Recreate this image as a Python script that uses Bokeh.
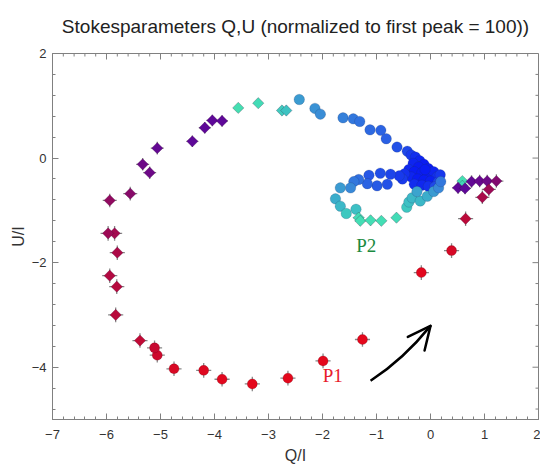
import numpy as np
from bokeh.plotting import figure
from bokeh.models import Range1d, ColumnDataSource, LinearColorMapper, FixedTicker, Label
from bokeh.embed import file_html
from bokeh.resources import INLINE

# ---------------- data ----------------
title_text = "Stokesparameters Q,U (normalized to first peak = 100))"

# diamond series (with error crosses): Q, U, phase (colour level), error half-size
dia_q = [-1.99, -2.64, -3.30, -3.86, -4.20, -4.75, -5.06, -5.11, -5.38, -5.83,
         -5.81, -5.94, -5.80, -5.85, -5.97, -5.94, -5.56, -5.20, -5.33, -5.06,
         -4.41, -4.18, -4.04, -3.86, -3.56, -3.19, -2.75, -2.67,
         -1.33, -1.30, -1.11, -0.91, -0.63,
         0.59, 0.59, 0.51, 0.64, 0.76, 0.91, 1.05, 1.22, 1.08, 0.96, 0.65,
         0.39, -0.17, -1.26]
dia_u = [-3.88, -4.21, -4.32, -4.23, -4.06, -4.03, -3.77, -3.63, -3.49, -3.00,
         -2.46, -2.25, -1.81, -1.44, -1.44, -0.81, -0.68, -0.28, -0.12, 0.19,
         0.32, 0.58, 0.72, 0.71, 0.96, 1.05, 0.91, 0.91,
         -1.14, -1.20, -1.19, -1.20, -1.14,
         -0.44, -0.53, -0.57, -0.58, -0.45, -0.44, -0.44, -0.44, -0.60, -0.75, -1.16,
         -1.77, -2.19, -3.47]
dia_lev = [0.00, 0.00, 0.00, 0.01, 0.02, 0.04, 0.08, 0.10, 0.12, 0.15,
           0.16, 0.17, 0.19, 0.22, 0.24, 0.28, 0.31, 0.40, 0.40, 0.43,
           0.46, 0.47, 0.47, 0.47, 0.55, 0.57, 0.61, 0.63,
           0.57, 0.56, 0.56, 0.56, 0.57,
           0.55, 0.58, 0.47, 0.46, 0.44, 0.42, 0.40, 0.33, 0.24, 0.20, 0.14,
           0.05, 0.01, 0.00]
dia_err = [0.14, 0.14, 0.14, 0.14, 0.14, 0.14, 0.14, 0.14, 0.14, 0.14,
           0.14, 0.14, 0.14, 0.14, 0.14, 0.13, 0.13, 0.12, 0.12, 0.12,
           0.11, 0.11, 0.11, 0.11, 0.06, 0.06, 0.06, 0.06,
           0.10, 0.10, 0.10, 0.09, 0.09,
           0.06, 0.06, 0.11, 0.11, 0.12, 0.12, 0.12, 0.13, 0.13, 0.13, 0.14,
           0.14, 0.14, 0.14]

# circle series: Q, U, phase
cir_q = [-2.43, -2.14, -2.04, -1.62, -1.43, -1.31, -1.12, -0.92, -0.82, -0.62, -0.43, -0.36,
         -0.28, -0.20, -0.32, -0.12, -0.22, -0.04, -0.40, -0.30, -0.16, -0.05, 0.06, 0.12,
         -0.36, -0.24, -0.12, 0.00, 0.14, -0.30, -0.16, -0.04, 0.08, -0.48, -0.52, -0.10, 0.18,
         -0.58, -0.74, -0.93, -1.14, -0.80, -0.99, -1.17, -1.33, -1.42, -1.48,
         -1.67, -1.76, -1.67, -1.56, -1.38, -0.44, -0.40, -0.34, -0.19, -0.25, -0.06, 0.06,
         0.15, 0.19]
cir_u = [1.12, 0.95, 0.84, 0.77, 0.75, 0.70, 0.54, 0.53, 0.37, 0.21, 0.13, 0.06,
         0.02, -0.05, -0.10, -0.12, -0.17, -0.20, -0.22, -0.26, -0.28, -0.32, -0.26, -0.36,
         -0.36, -0.40, -0.42, -0.44, -0.46, -0.50, -0.52, -0.54, -0.55, -0.30, -0.40, -0.22, -0.32,
         -0.34, -0.31, -0.29, -0.33, -0.50, -0.53, -0.49, -0.41, -0.45, -0.57,
         -0.57, -0.78, -0.92, -1.06, -0.98, -0.94, -0.84, -0.76, -0.82, -0.64, -0.73, -0.64,
         -0.57, -0.45]
cir_lev = [0.72, 0.74, 0.75, 0.78, 0.80, 0.81, 0.83, 0.84, 0.85, 0.88, 0.90, 0.93,
           0.96, 0.98, 0.98, 1.00, 1.00, 1.00, 0.97, 1.00, 1.00, 1.00, 0.98, 0.96,
           0.98, 1.00, 1.00, 0.99, 0.92, 0.96, 0.97, 0.95, 0.90, 0.95, 0.93, 1.00, 0.94,
           0.93, 0.91, 0.89, 0.87, 0.88, 0.86, 0.84, 0.82, 0.80, 0.76,
           0.72, 0.68, 0.66, 0.62, 0.64, 0.62, 0.64, 0.66, 0.66, 0.70, 0.68, 0.72,
           0.76, 0.80]

x_ticks = [-7, -6, -5, -4, -3, -2, -1, 0, 1, 2]
y_ticks = [-4, -2, 0, 2]
X0, X1, Y0, Y1 = -7, 2, -5, 2

# ---------------- colour palette ----------------
anchors = [(0.00, "#e4081c"), (0.15, "#b80a3c"), (0.30, "#8a0a66"), (0.45, "#5e0898"),
           (0.50, "#5e0898"), (0.55, "#44e2b2"), (0.65, "#3cbcc6"), (0.75, "#3a8ed6"),
           (0.85, "#2a60e4"), (1.00, "#0a1cf2")]
pos = np.array([a[0] for a in anchors])
rgb = np.array([[int(c[1:3], 16), int(c[3:5], 16), int(c[5:7], 16)] for _, c in anchors], float)
tt = np.linspace(0, 1, 256)
palette = ["#%02x%02x%02x" % tuple(int(round(np.interp(t, pos, rgb[:, k]))) for k in range(3))
           for t in tt]
cmap = LinearColorMapper(palette=palette, low=0, high=1)

# ---------------- figure ----------------
W, H = 540, 468
ML, MR, MT, MB = 52, 2, 53, 49
p = figure(width=W, height=H, x_range=Range1d(X0, X1), y_range=Range1d(Y0, Y1),
           output_backend="svg", toolbar_location=None,
           min_border_left=ML, min_border_right=MR, min_border_top=MT, min_border_bottom=MB)
p.grid.visible = False
p.outline_line_color = "#808080"
p.background_fill_color = "white"
p.border_fill_color = "white"

p.title.text = title_text
p.title.align = "center"
p.title.vertical_align = "top"
p.title.text_font = "Liberation Sans"
p.title.text_font_size = "19px"
p.title.text_font_style = "normal"
p.title.text_color = "#222222"
p.title.standoff = 29

fw = W - ML - MR
fh = H - MT - MB
px_x = (X1 - X0) / fw
px_y = (Y1 - Y0) / fh

xminor = [round(v, 2) for v in np.arange(X0, X1 + 0.001, 0.2)]
yminor = [round(v, 2) for v in np.arange(-4.8, Y1 + 0.001, 0.4)]
p.xaxis.ticker = FixedTicker(ticks=x_ticks, minor_ticks=xminor)
p.yaxis.ticker = FixedTicker(ticks=y_ticks, minor_ticks=yminor)
p.xaxis.axis_label = "Q/I"
p.yaxis.axis_label = "U/I"
for ax in (p.xaxis[0], p.yaxis[0]):
    ax.axis_line_color = "#808080"
    ax.major_tick_line_color = "#808080"
    ax.minor_tick_line_color = "#808080"
    ax.major_tick_in = 6
    ax.major_tick_out = 0
    ax.minor_tick_in = 3
    ax.minor_tick_out = 0
    ax.major_label_text_font = "Liberation Sans"
    ax.major_label_text_font_size = "13px"
    ax.major_label_text_color = "#333333"
    ax.axis_label_text_font = "Liberation Sans"
    ax.axis_label_text_font_size = "16px"
    ax.axis_label_text_font_style = "normal"
    ax.axis_label_text_color = "#333333"
p.xaxis.major_label_standoff = 10
p.xaxis.axis_label_standoff = 5
p.yaxis.major_label_standoff = 6
p.yaxis.axis_label_standoff = 2

# inner ticks on the top and right edges of the frame
xt_all = np.array(x_ticks + [v for v in xminor if v not in x_ticks], float)
xt_len = np.array([6 if v in x_ticks else 3 for v in xt_all], float) * px_y
p.segment(x0=xt_all, y0=Y1, x1=xt_all, y1=Y1 - xt_len, line_color="#808080", line_width=1)
yt_all = np.array(y_ticks + [v for v in yminor if v not in y_ticks], float)
yt_len = np.array([6 if v in y_ticks else 3 for v in yt_all], float) * px_x
p.segment(x0=X1, y0=yt_all, x1=X1 - yt_len, y1=yt_all, line_color="#808080", line_width=1)

# ---------------- glyphs ----------------
dq = np.array(dia_q); du = np.array(dia_u); dl = np.array(dia_lev); de = np.array(dia_err)
cq = np.array(cir_q); cu = np.array(cir_u); cl = np.array(cir_lev)

# error crosses
p.segment(x0=dq - de, y0=du, x1=dq + de, y1=du, line_color="#888888", line_width=1.3)
p.segment(x0=dq, y0=du - de, x1=dq, y1=du + de, line_color="#888888", line_width=1.3)

# circles (blue / teal series)
src_c = ColumnDataSource(dict(q=cq, u=cu, lev=cl))
p.scatter("q", "u", source=src_c, marker="circle", size=10.5,
          fill_color={"field": "lev", "transform": cmap},
          line_color="#203060", line_alpha=0.25, line_width=0.8)

# red points (round) and the rest as diamonds
red = dl < 0.12
src_r = ColumnDataSource(dict(q=dq[red], u=du[red], lev=dl[red]))
src_d = ColumnDataSource(dict(q=dq[~red], u=du[~red], lev=dl[~red]))
p.scatter("q", "u", source=src_r, marker="circle", size=10,
          fill_color={"field": "lev", "transform": cmap},
          line_color="#600010", line_alpha=0.3, line_width=0.8)
p.scatter("q", "u", source=src_d, marker="square", angle=np.pi / 4, size=8,
          fill_color={"field": "lev", "transform": cmap},
          line_color="#300030", line_alpha=0.3, line_width=0.8)

# ---------------- annotations ----------------
p.add_layout(Label(x=-1.81, y=-4.15, text="P1", text_font="Liberation Serif",
                   text_font_size="19px", text_color="#e8202a",
                   text_align="center", text_baseline="middle"))
p.add_layout(Label(x=-1.19, y=-1.68, text="P2", text_font="Liberation Serif",
                   text_font_size="19px", text_color="#1a8a40",
                   text_align="center", text_baseline="middle"))

# curved arrow
p.quadratic(x0=-1.11, y0=-4.26, x1=0.0, y1=-3.21, cx=-0.50, cy=-3.85,
            line_color="black", line_width=2.5)
p.segment(x0=[0.0, 0.0], y0=[-3.21, -3.21], x1=[-0.42, -0.11], y1=[-3.42, -3.68],
          line_color="black", line_width=2.5, line_cap="round")

open("out.html", "w").write(file_html(p, INLINE))
